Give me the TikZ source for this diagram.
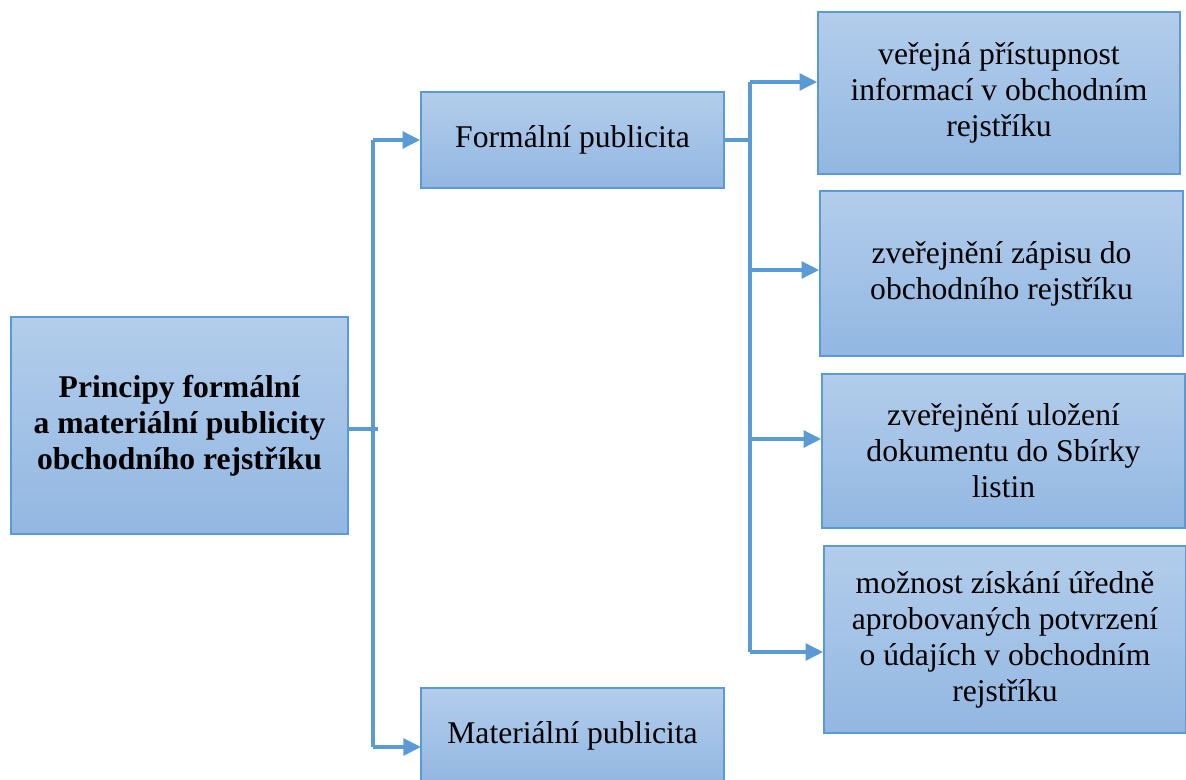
\documentclass[tikz,border=0pt]{standalone}
\usepackage{fontspec}
\setmainfont{Liberation Serif}
\usetikzlibrary{arrows.meta}
\definecolor{boxtop}{HTML}{B3CDEB}
\definecolor{boxbot}{HTML}{92B7E2}
\definecolor{edge}{HTML}{5B9BD5}
\begin{document}
\begin{tikzpicture}[x=0.02cm,y=-0.02cm,
  box/.style={draw=edge,line width=1pt,top color=boxtop,bottom color=boxbot,align=center,inner sep=0pt,font=\fontsize{18}{20.5}\selectfont},
  link/.style={draw=edge,line width=2pt},
  arr/.style={link,-{Triangle[length=10pt,width=9.5pt]}}]
\useasboundingbox (0,0) rectangle (1186,780);

\node[box,minimum width=6.74cm,minimum height=4.34cm,font=\fontsize{18}{20.5}\selectfont\bfseries] (main) at (179.5,425.5) {Principy formální\\a materiální publicity\\obchodního rejstříku};
\node[box,minimum width=6.06cm,minimum height=1.92cm] (formal) at (572.5,140) {Formální publicita};
\node[box,minimum width=6.06cm,minimum height=1.92cm] (material) at (572.5,736) {Materiální publicita};

\node[box,minimum width=7.24cm,minimum height=3.24cm] (r1) at (999,93) {veřejná přístupnost\\informací v obchodním\\rejstříku};
\node[box,minimum width=7.26cm,minimum height=3.30cm] (r2) at (1001.5,273.5) {zveřejnění zápisu do\\obchodního rejstříku};
\node[box,minimum width=7.26cm,minimum height=3.08cm] (r3) at (1003.5,451) {zveřejnění uložení\\dokumentu do Sbírky\\listin};
\node[box,minimum width=7.24cm,minimum height=3.74cm] (r4) at (1005,639.5) {možnost získání úředně\\aprobovaných potvrzení\\o údajích v obchodním\\rejstříku};

\coordinate (split) at (373,429);
\coordinate (mtip) at (421,747);
\draw[link] (main.east |- split) -- ++(29,0);
\draw[link] (split |- formal.west) -- (split |- mtip);
\draw[arr] (split |- formal.west) -- (formal.west);
\draw[arr] (split |- mtip) -- (mtip);

\coordinate (rsplit) at (750,137);
\foreach \i/\y in {1/82,2/270,3/439,4/652} {\coordinate (tip\i) at (r\i.west |- 0,\y);}
\draw[link] (formal.east) -- (rsplit |- formal.east);
\draw[link] (rsplit |- tip1) -- (rsplit |- tip4);
\foreach \i in {1,...,4} {\draw[arr] (rsplit |- tip\i) -- (tip\i);}

\end{tikzpicture}
\end{document}
